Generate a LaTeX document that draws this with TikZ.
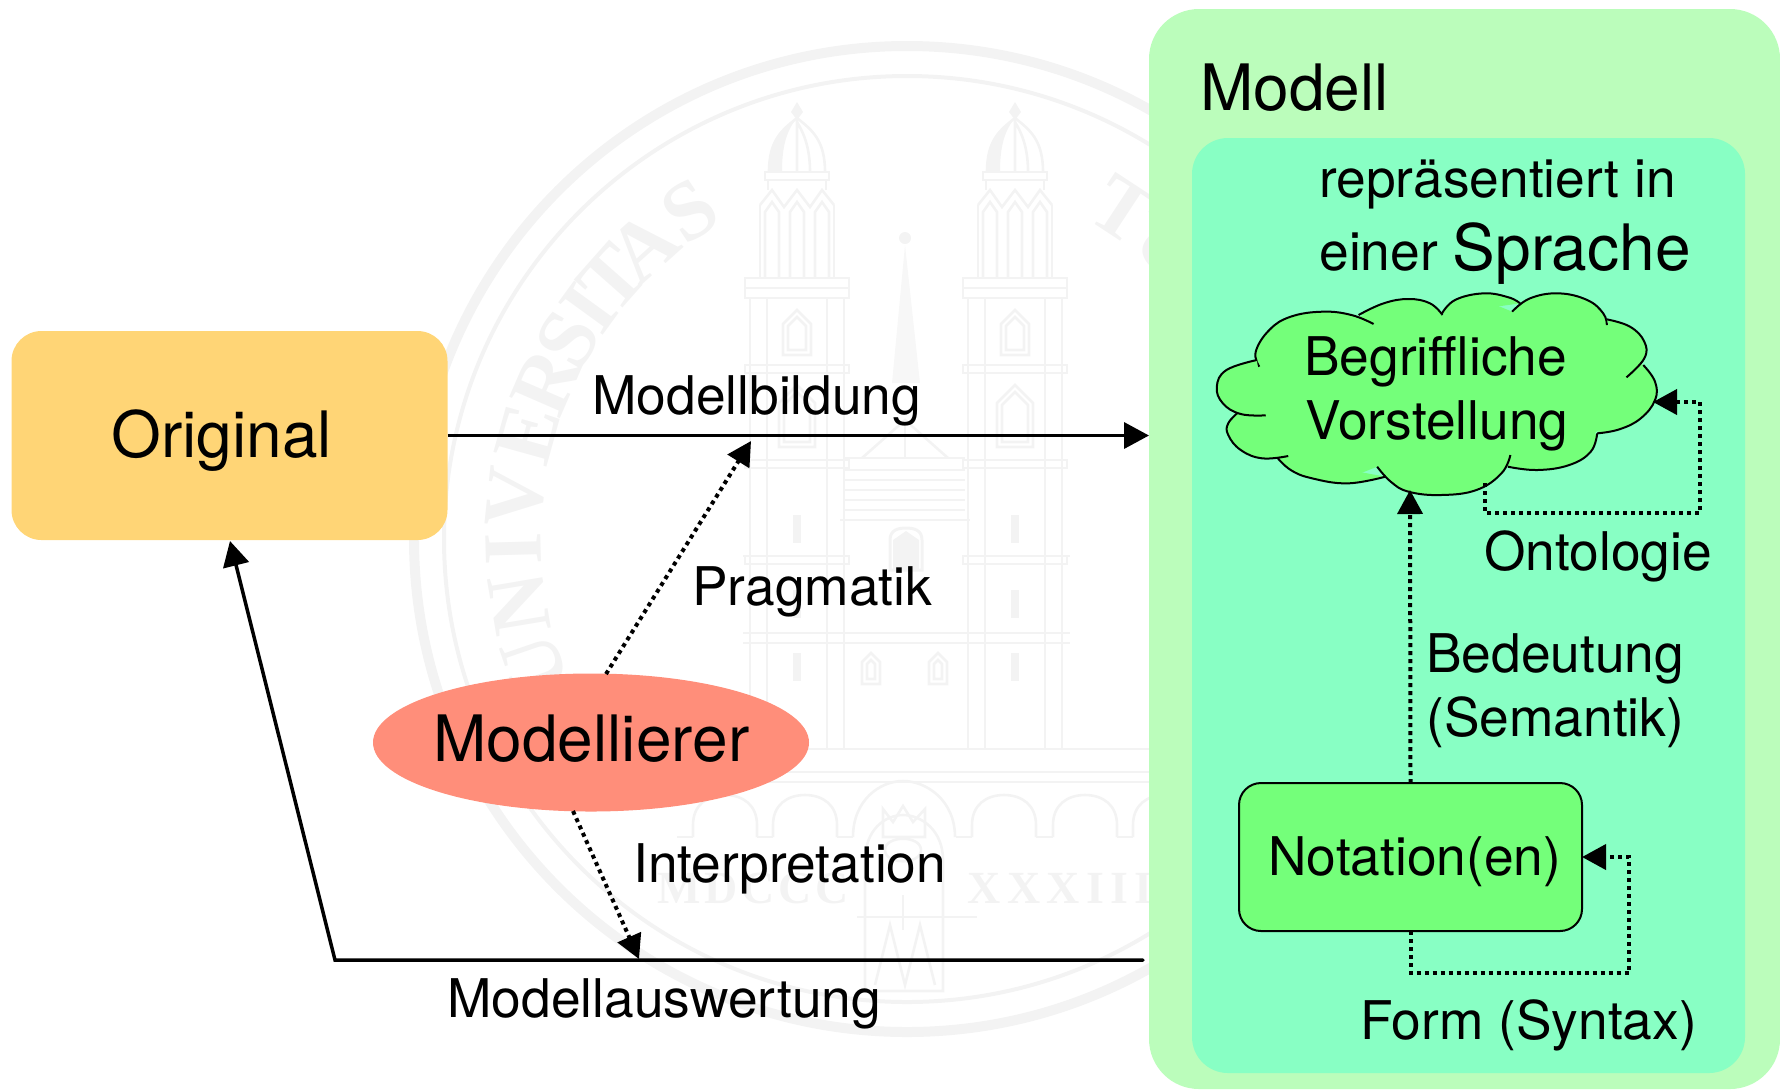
\documentclass[tikz,border=0pt]{standalone}
\usepackage{fontspec}
\setmainfont{TeX Gyre Heros}
\newfontfamily\sealfont{Liberation Serif Bold}
\newfontfamily\sealspaced{Liberation Serif Bold}[LetterSpace=8]
\newfontfamily\sealwide{Liberation Serif Bold}[LetterSpace=14]
\usetikzlibrary{arrows.meta,shapes.geometric,calc}
\definecolor{outerc}{HTML}{BBFDBB}
\definecolor{innerc}{HTML}{88FFC4}
\definecolor{greenc}{HTML}{74FF7A}
\definecolor{origc}{HTML}{FFD576}
\definecolor{salmon}{HTML}{FF8E7A}
\definecolor{sealc}{HTML}{F3F3F3}
\tikzset{
  box/.style={rectangle,anchor=north west,inner sep=0pt,outer sep=0pt},
  big/.style={anchor=base west,inner sep=0pt,font=\fontsize{32}{36}\selectfont},
  txt/.style={anchor=base west,inner sep=0pt,font=\fontsize{26.65}{30}\selectfont},
  solidarrow/.style={line width=1.75pt,-{Triangle[length=12.5pt,width=13pt]}},
  dotarrow/.style={line width=2pt,dash pattern=on 2pt off 2pt,-{Triangle[length=12pt,width=12.5pt,sep=0pt]}},
  cloudline/.style={line width=1pt,black},
  sealline/.style={sealc,line width=1.3pt},
  sealletter/.style={sealc,inner sep=0pt,text height=28pt,text depth=0pt,font=\sealfont\fontsize{42}{42}\selectfont},
}
\newcommand{\lobe}[1]{\fill[greenc] plot[smooth,tension=0.7] coordinates {#1};\draw[cloudline] plot[smooth,tension=0.7] coordinates {#1};}
\newcommand{\gothwin}[4]{% x, halfwidth, top, bottom
  \draw[sealline] ({#1-#2},#4) -- ({#1-#2},{#3+#2}) -- (#1,#3) -- ({#1+#2},{#3+#2}) -- ({#1+#2},#4) -- cycle;
  \draw[sealline] ({#1-#2+5},{#4-5}) -- ({#1-#2+5},{#3+#2+2}) -- (#1,{#3+7}) -- ({#1+#2-5},{#3+#2+2}) -- ({#1+#2-5},{#4-5}) -- cycle;}
\begin{document}
\begin{tikzpicture}[x=0.5pt,y=-0.5pt]
\useasboundingbox (0,0) rectangle (1780,1089);
% ---- seal watermark ----
\coordinate (sealc0) at (907,539);
\draw[sealc,line width=5pt] (sealc0) circle [radius=246.5pt];
\draw[sealc,line width=2pt] (sealc0) circle [radius=231.5pt];
\foreach \ang/\ltr in {199/U,189.5/N,181.5/I,174/V,164.5/E,156.5/R,149.5/S,144/I,138.5/T,132/A,123.5/S,56.7/T,48/U}
  \node[sealletter,rotate=\ang-90] at ($(sealc0)+(\ang:197pt)$) {\ltr};
\node[anchor=base west,inner sep=0pt,sealc,font=\sealspaced\fontsize{23}{23}\selectfont] (mdccc) at (657,903) {MDCCC};
\node[anchor=base west,inner sep=0pt,sealc,font=\sealwide\fontsize{23}{23}\selectfont] (xxxiii) at (967,903) {XXXIII};
% towers
\foreach \tx in {797,1015}{
\begin{scope}[shift={(\tx,0)}]
  \fill[sealc] (0,102) -- (6,112) -- (0,120) -- (-6,112) -- cycle;
  \draw[sealline] (-28,172) .. controls (-28,140) and (-15,130) .. (0,118) .. controls (15,130) and (28,140) .. (28,172);
  \fill[sealc] (-28,172) .. controls (-28,140) and (-15,130) .. (0,118) .. controls (-10,130) and (-15,145) .. (-15,172) -- cycle;
  \draw[sealline] (0,118) -- (0,172) (13,172) .. controls (13,150) and (8,135) .. (0,122);
  \draw[sealline] (-32,172) rectangle (32,180);
  \draw[sealline] (-37,205) -- (-25,190) -- (-13,207) -- (0,190) -- (13,207) -- (25,190) -- (37,205);
  \draw[sealline] (-37,205) -- (-37,278) (37,205) -- (37,278) (-29,180) -- (-29,190) (29,180) -- (29,190);
  \foreach \dx in {-25,0,25}{
    \draw[sealline] ({\dx-7},277) -- ({\dx-7},212) -- (\dx,202) -- ({\dx+7},212) -- ({\dx+7},277);}
  \draw[sealline] (-52,278) rectangle (52,298) (-52,288) -- (52,288);
  \foreach \dx in {-47,-30,30,47}{\draw[sealline] (\dx,298) -- (\dx,749);}
  \foreach \yy in {365,460,556}{\draw[sealline] (-52,\yy) rectangle (52,{\yy+8});}
  \gothwin{0}{14}{310}{355}
  \gothwin{0}{18}{385}{447}
  \foreach \yy in {515,590,653}{\fill[sealc] (-4,\yy) -- (4,\yy) -- (4,{\yy+28}) -- (-4,{\yy+28}) -- cycle;}
\end{scope}}
% nave and spire
\fill[sealc!70!white] (905,245) -- (892,383) -- (920,383) -- cycle;
\fill[sealc] (905,238) circle[radius=3pt];
\draw[sealline] (862,458) -- (905,420) -- (948,458);
\draw[sealline] (905,420) -- (905,458);
\foreach \yy in {458,470,480,490,500,510}{\draw[sealline] (845,\yy) -- (965,\yy);}
\draw[sealline] (840,520) -- (970,520);
\draw[sealc,line width=1.5pt] (890,570) -- (890,540) .. controls (890,530) and (898,528) .. (906,528) .. controls (914,528) and (922,530) .. (922,540) -- (922,570) -- cycle;
\fill[sealc] (893,570) -- (893,540) -- (906,531) -- (919,540) -- (919,570) -- cycle;
\draw[sealline] (743,556) -- (850,556) (962,556) -- (1070,556);
\draw[sealline] (743,633) -- (1070,633) (743,643) -- (1070,643);
\gothwin{871}{9}{653}{684}
\gothwin{938}{9}{653}{684}
\foreach \yy in {749,772,782}{\draw[sealline] (560,\yy) -- (1149,\yy);}
\foreach \cx in {725,805,1004,1085,1165}{
  \draw[sealline] ({\cx-32},837) -- ({\cx-32},825) .. controls ({\cx-32},805) and ({\cx-18},795) .. (\cx,795) .. controls ({\cx+18},795) and ({\cx+32},805) .. ({\cx+32},825) -- ({\cx+32},837);
  \draw[sealline] ({\cx-48},837) -- ({\cx-32},837) ({\cx+32},837) -- ({\cx+48},837);}
% shield
\draw[sealline] (853,837) .. controls (853,800) and (880,781) .. (903,781) .. controls (926,781) and (955,800) .. (955,837);
\draw[sealline] (865,991) -- (865,860) .. controls (865,830) and (885,815) .. (903,815) .. controls (921,815) and (943,830) .. (943,860) -- (943,991) -- cycle;
\draw[sealline] (883,837) -- (883,809) -- (893,822) -- (903,806) -- (913,822) -- (925,809) -- (925,837) -- cycle;
\draw[sealline] (885,850) .. controls (885,835) and (921,835) .. (921,850) .. controls (921,865) and (885,865) .. (885,850);
\draw[sealline] (857,917) -- (977,917) (903,895) -- (903,930);
\draw[sealline] (875,985) -- (890,925) -- (905,985) -- (920,925) -- (935,985);
% ---- boxes ----
\node[box,fill=outerc,rounded corners=25pt,minimum width=315.5pt,minimum height=540pt] (outer) at (1149,9) {};
\node[box,fill=innerc,rounded corners=18pt,minimum width=276.5pt,minimum height=467.5pt] (inner) at (1192,138) {};
\node[box,fill=origc,rounded corners=15pt,minimum width=218pt,minimum height=104.5pt] (original) at (11.5,331) {};
\node[ellipse,fill=salmon,inner sep=0pt,outer sep=0pt,minimum width=218pt,minimum height=69pt] (modellierer) at (591,742.5) {};
\node[box,fill=greenc,draw=black,line width=1pt,rounded corners=11pt,minimum width=171.5pt,minimum height=74pt] (notation) at (1239,783) {};
% ---- cloud ----
\begin{scope}[shift={(1180,270)},x=0.17857pt,y=-0.16667pt]
  \fill[greenc] (222,290) -- (300,170) -- (400,140) -- (500,140) -- (640,105) -- (735,135) -- (850,90) -- (930,125) -- (1060,90) -- (1170,140) -- (1195,160) -- (1280,220) -- (1295,285) -- (1315,360) -- (1270,440) -- (1165,485) -- (1130,550) -- (1000,585) -- (918,590) -- (730,660) -- (552,590) -- (470,625) -- (330,600) -- (270,560) -- (160,510) -- (165,425) -- (120,350) -- cycle;
  \lobe{(222,290) (212,245) (250,180) (310,140) (400,125) (480,135) (542,162)}
  \lobe{(500,135) (570,100) (640,87) (700,100) (735,135)}
  \lobe{(732,133) (770,90) (850,70) (920,82) (952,100)}
  \lobe{(930,125) (980,85) (1060,70) (1140,90) (1185,130) (1195,165)}
  \lobe{(1195,148) (1260,170) (1300,215) (1300,265) (1250,322)}
  \lobe{(1297,285) (1330,335) (1330,390) (1290,445) (1230,478) (1168,490)}
  \lobe{(1168,490) (1150,545) (1090,585) (1000,600) (918,590)}
  \lobe{(925,555) (900,610) (830,660) (730,675) (640,665) (590,635) (552,590)}
  \lobe{(575,620) (470,640) (370,625) (310,600) (270,560)}
  \lobe{(303,558) (230,565) (170,540) (135,495) (135,460) (165,425)}
  \lobe{(240,436) (170,432) (120,400) (103,350) (130,300) (215,270)}
\end{scope}
% ---- anchors on the shapes ----
\coordinate (cloudbottom) at (1410,490);
\coordinate (cloudstart) at (1485,483);
\coordinate (cloudright) at (1653,402);
\coordinate (ontocorner) at (1700,513);
\coordinate (formcorner) at (1629,973);
\coordinate (origfoot) at (230,541);
\coordinate (knee) at (335,960);
\coordinate (aussstart) at (1143,960);
\coordinate (elltop) at (606,674);
\coordinate (ellbot) at (573,811);
\coordinate (bildtarget) at (751,441);
\coordinate (auswtarget) at (639,959);
% ---- connectors ----
\draw[solidarrow] (original.east) -- (original.east -| outer.west);
\draw[solidarrow,line cap=round,line join=miter] (aussstart) -- (knee) -- (origfoot);
\draw[dotarrow] (elltop) -- (bildtarget);
\draw[dotarrow] (ellbot) -- (auswtarget);
\draw[dotarrow] (notation.north) -- (cloudbottom);
\draw[dotarrow] (cloudstart) -- (cloudstart |- ontocorner) -- (ontocorner) -- (ontocorner |- cloudright) -- (cloudright);
\draw[dotarrow] (notation.south) -- (notation.south |- formcorner) -- (formcorner) -- (formcorner |- notation.east) -- (notation.east);
% ---- labels ----
\node[big] (t1) at (111,457) {Original};
\node[big] (t2) at (433,761) {Modellierer};
\node[big] (t3) at (1200,110) {Modell};
\node[txt] (t4) at (592,414) {Modellbildung};
\node[txt] (t5) at (692,605) {Pragmatik};
\node[txt] (t6) at (633,882) {Interpretation};
\node[txt] (t7) at (447,1017) {Modellauswertung};
\node[txt] (t8) at (1319,197.5) {repräsentiert in};
\node[txt] (t9) at (1319,270) {einer {\fontsize{32}{36}\selectfont Sprache}};
\node[txt] (t10) at (1304,375.5) {Begriffliche};
\node[txt] (t11) at (1305,439.5) {Vorstellung};
\node[txt] (t12) at (1484,570) {Ontologie};
\node[txt] (t13) at (1426,672.5) {Bedeutung};
\node[txt] (t14) at (1426,736.5) {(Semantik)};
\node[txt] (t15) at (1268,875) {Notation(en)};
\node[txt] (t16) at (1360,1039) {Form (Syntax)};
\end{tikzpicture}
\end{document}
